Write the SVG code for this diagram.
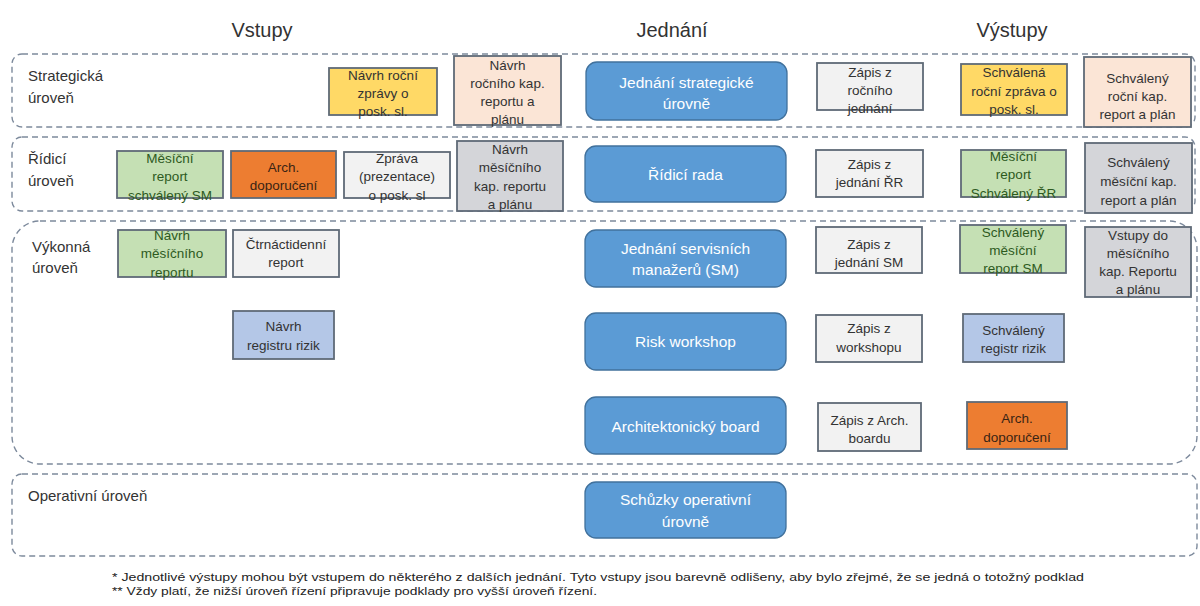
<svg xmlns="http://www.w3.org/2000/svg" width="1200" height="606" viewBox="0 0 1200 606">
<style>
text{font-family:"Liberation Sans",Arial,sans-serif}
.hdr{font-size:20px;fill:#333;text-anchor:middle}
.lvl{font-size:15px;fill:#333}
.band{fill:none;stroke:#7d8a9c;stroke-width:1.4;stroke-dasharray:6 4}
.box{stroke:#5f6a77;stroke-width:1.8}
.mtg{fill:#5b9bd5;stroke:#41719c;stroke-width:1.3}
.mt{font-size:15.5px;fill:#fff;text-anchor:middle}
.bt{font-size:13.5px;fill:#333;text-anchor:middle}
.gt{font-size:13.5px;fill:#2d5a1e;text-anchor:middle}
.ot{font-size:13.5px;fill:#3a2414;text-anchor:middle}
.yel{fill:#ffd966}.pea{fill:#fbe5d6}.lgt{fill:#f2f2f2}.grn{fill:#c5e0b4}
.org{fill:#ed7d31}.gry{fill:#d4d5d9}.lbl{fill:#b4c7e7}
.fn{font-size:11.5px;fill:#222}
</style>

<g id="headers">
<text class="hdr" x="262" y="37">Vstupy</text>
<text class="hdr" x="672" y="37">Jednání</text>
<text class="hdr" x="1012" y="37">Výstupy</text>
</g>

<g id="bands">
<rect class="band" x="12" y="54" width="1183" height="73" rx="10"/>
<rect class="band" x="12" y="137" width="1183" height="74" rx="10"/>
<rect class="band" x="12" y="221" width="1185" height="243" rx="28"/>
<rect class="band" x="12" y="474" width="1185" height="82" rx="10"/>
<text class="lvl" x="28" y="81">Strategická</text>
<text class="lvl" x="28" y="103">úroveň</text>
<text class="lvl" x="28" y="164">Řídicí</text>
<text class="lvl" x="28" y="186">úroveň</text>
<text class="lvl" x="32" y="252">Výkonná</text>
<text class="lvl" x="32" y="273">úroveň</text>
<text class="lvl" x="28" y="501">Operativní úroveň</text>
</g>

<g id="connectors"></g>

<!-- Strategická -->
<g id="s_in1"><rect class="box yel" x="329" y="68" width="108" height="47"/>
<text class="bt" x="383" y="79.7">Návrh roční</text><text class="bt" x="383" y="97.7">zprávy o</text><text class="bt" x="383" y="115.7">posk. sl.</text></g>
<g id="s_in2"><rect class="box pea" x="454" y="56" width="107" height="69"/>
<text class="bt" x="507.5" y="69.7">Návrh</text><text class="bt" x="507.5" y="87.7">ročního kap.</text><text class="bt" x="507.5" y="105.7">reportu a</text><text class="bt" x="507.5" y="123.7">plánu</text></g>
<g id="s_mtg"><rect class="mtg" x="586" y="62" width="201" height="58" rx="11"/>
<text class="mt" x="686.5" y="88.4">Jednání strategické</text><text class="mt" x="686.5" y="109.4">úrovně</text></g>
<g id="s_out1"><rect class="box lgt" x="817" y="63" width="106" height="47"/>
<text class="bt" x="870" y="76.7">Zápis z</text><text class="bt" x="870" y="94.7">ročního</text><text class="bt" x="870" y="112.7">jednání</text></g>
<g id="s_out2"><rect class="box yel" x="961" y="64" width="106" height="51"/>
<text class="bt" x="1014" y="76.7">Schválená</text><text class="bt" x="1014" y="95.7">roční zpráva o</text><text class="bt" x="1014" y="113.7">posk. sl.</text></g>
<g id="s_out3"><rect class="box pea" x="1084" y="57" width="107" height="70"/>
<text class="bt" x="1137.5" y="82.7">Schválený</text><text class="bt" x="1137.5" y="100.7">roční kap.</text><text class="bt" x="1137.5" y="118.7">report a plán</text></g>

<!-- Řídicí -->
<g id="r_in1"><rect class="box grn" x="117" y="151" width="106" height="47"/>
<text class="gt" x="170" y="162.7">Měsíční</text><text class="gt" x="170" y="181.2">report</text><text class="gt" x="170" y="199.7">schválený SM</text></g>
<g id="r_in2"><rect class="box org" x="231" y="151" width="105" height="47"/>
<text class="ot" x="283.5" y="171.7">Arch.</text><text class="ot" x="283.5" y="189.7">doporučení</text></g>
<g id="r_in3"><rect class="box lgt" x="344" y="152" width="106" height="46"/>
<text class="bt" x="397" y="162.7">Zpráva</text><text class="bt" x="397" y="181.2">(prezentace)</text><text class="bt" x="397" y="199.7">o posk. sl</text></g>
<g id="r_in4"><rect class="box gry" x="457" y="141" width="106" height="70"/>
<text class="bt" x="510" y="153.7">Návrh</text><text class="bt" x="510" y="172.2">měsíčního</text><text class="bt" x="510" y="190.7">kap. reportu</text><text class="bt" x="510" y="209.2">a plánu</text></g>
<g id="r_mtg"><rect class="mtg" x="585" y="146" width="201" height="56" rx="11"/>
<text class="mt" x="685.5" y="180.4">Řídicí rada</text></g>
<g id="r_out1"><rect class="box lgt" x="816" y="150" width="107" height="47"/>
<text class="bt" x="869.5" y="168.7">Zápis z</text><text class="bt" x="869.5" y="186.7">jednání ŘR</text></g>
<g id="r_out2"><rect class="box grn" x="961" y="150" width="105" height="47"/>
<text class="gt" x="1013.5" y="160.7">Měsíční</text><text class="gt" x="1013.5" y="179.2">report</text><text class="gt" x="1013.5" y="197.7">Schválený ŘR</text></g>
<g id="r_out3"><rect class="box gry" x="1085" y="143" width="107" height="70"/>
<text class="bt" x="1138.5" y="166.7">Schválený</text><text class="bt" x="1138.5" y="185.7">měsíční kap.</text><text class="bt" x="1138.5" y="204.7">report a plán</text></g>

<!-- Výkonná -->
<g id="v_in1"><rect class="box grn" x="118" y="230" width="108" height="47"/>
<text class="gt" x="172" y="239.7">Návrh</text><text class="gt" x="172" y="258.2">měsíčního</text><text class="gt" x="172" y="276.7">reportu</text></g>
<g id="v_in2"><rect class="box lgt" x="233" y="230" width="106" height="47"/>
<text class="bt" x="286" y="248.7">Čtrnáctidenní</text><text class="bt" x="286" y="266.7">report</text></g>
<g id="v_in3"><rect class="box lbl" x="233" y="311" width="101" height="48"/>
<text class="bt" x="283.5" y="331.2">Návrh</text><text class="bt" x="283.5" y="350.2">registru rizik</text></g>
<g id="v_mtg1"><rect class="mtg" x="585" y="230" width="201" height="57" rx="11"/>
<text class="mt" x="685.5" y="253.9">Jednání servisních</text><text class="mt" x="685.5" y="274.9">manažerů (SM)</text></g>
<g id="v_out1"><rect class="box lgt" x="816" y="227" width="106" height="46"/>
<text class="bt" x="869" y="248.7">Zápis z</text><text class="bt" x="869" y="266.7">jednání SM</text></g>
<g id="v_out2"><rect class="box grn" x="960" y="225" width="106" height="48"/>
<text class="gt" x="1013" y="236.7">Schválený</text><text class="gt" x="1013" y="255.2">měsíční</text><text class="gt" x="1013" y="273.2">report SM</text></g>
<g id="v_out3"><rect class="box gry" x="1085" y="227" width="106" height="70"/>
<text class="bt" x="1138" y="239.7">Vstupy do</text><text class="bt" x="1138" y="257.7">měsíčního</text><text class="bt" x="1138" y="275.7">kap. Reportu</text><text class="bt" x="1138" y="293.7">a plánu</text></g>
<g id="v_mtg2"><rect class="mtg" x="585" y="313" width="201" height="57" rx="11"/>
<text class="mt" x="685.5" y="347">Risk workshop</text></g>
<g id="v_out4"><rect class="box lgt" x="816" y="315" width="106" height="47"/>
<text class="bt" x="869" y="333.2">Zápis z</text><text class="bt" x="869" y="352.2">workshopu</text></g>
<g id="v_out5"><rect class="box lbl" x="963" y="314" width="101" height="48"/>
<text class="bt" x="1013.5" y="334.7">Schválený</text><text class="bt" x="1013.5" y="352.7">registr rizik</text></g>
<g id="v_mtg3"><rect class="mtg" x="585" y="397" width="201" height="57" rx="11"/>
<text class="mt" x="685.5" y="431.5">Architektonický board</text></g>
<g id="v_out6"><rect class="box lgt" x="818" y="403" width="103" height="48"/>
<text class="bt" x="869.5" y="425.2">Zápis z Arch.</text><text class="bt" x="869.5" y="443.2">boardu</text></g>
<g id="v_out7"><rect class="box org" x="967" y="402" width="100" height="47"/>
<text class="ot" x="1017" y="422.7">Arch.</text><text class="ot" x="1017" y="441.7">doporučení</text></g>

<!-- Operativní -->
<g id="o_mtg"><rect class="mtg" x="585" y="482" width="201" height="56" rx="11"/>
<text class="mt" x="685.5" y="505.4">Schůzky operativní</text><text class="mt" x="685.5" y="527.4">úrovně</text></g>

<g id="footnotes">
<text class="fn" x="112" y="581" textLength="972" lengthAdjust="spacingAndGlyphs">* Jednotlivé výstupy mohou být vstupem do některého z dalších jednání. Tyto vstupy jsou barevně odlišeny, aby bylo zřejmé, že se jedná o totožný podklad</text>
<text class="fn" x="112" y="595" textLength="485" lengthAdjust="spacingAndGlyphs">** Vždy platí, že nižší úroveň řízení připravuje podklady pro vyšší úroveň řízení.</text>
</g>
</svg>
